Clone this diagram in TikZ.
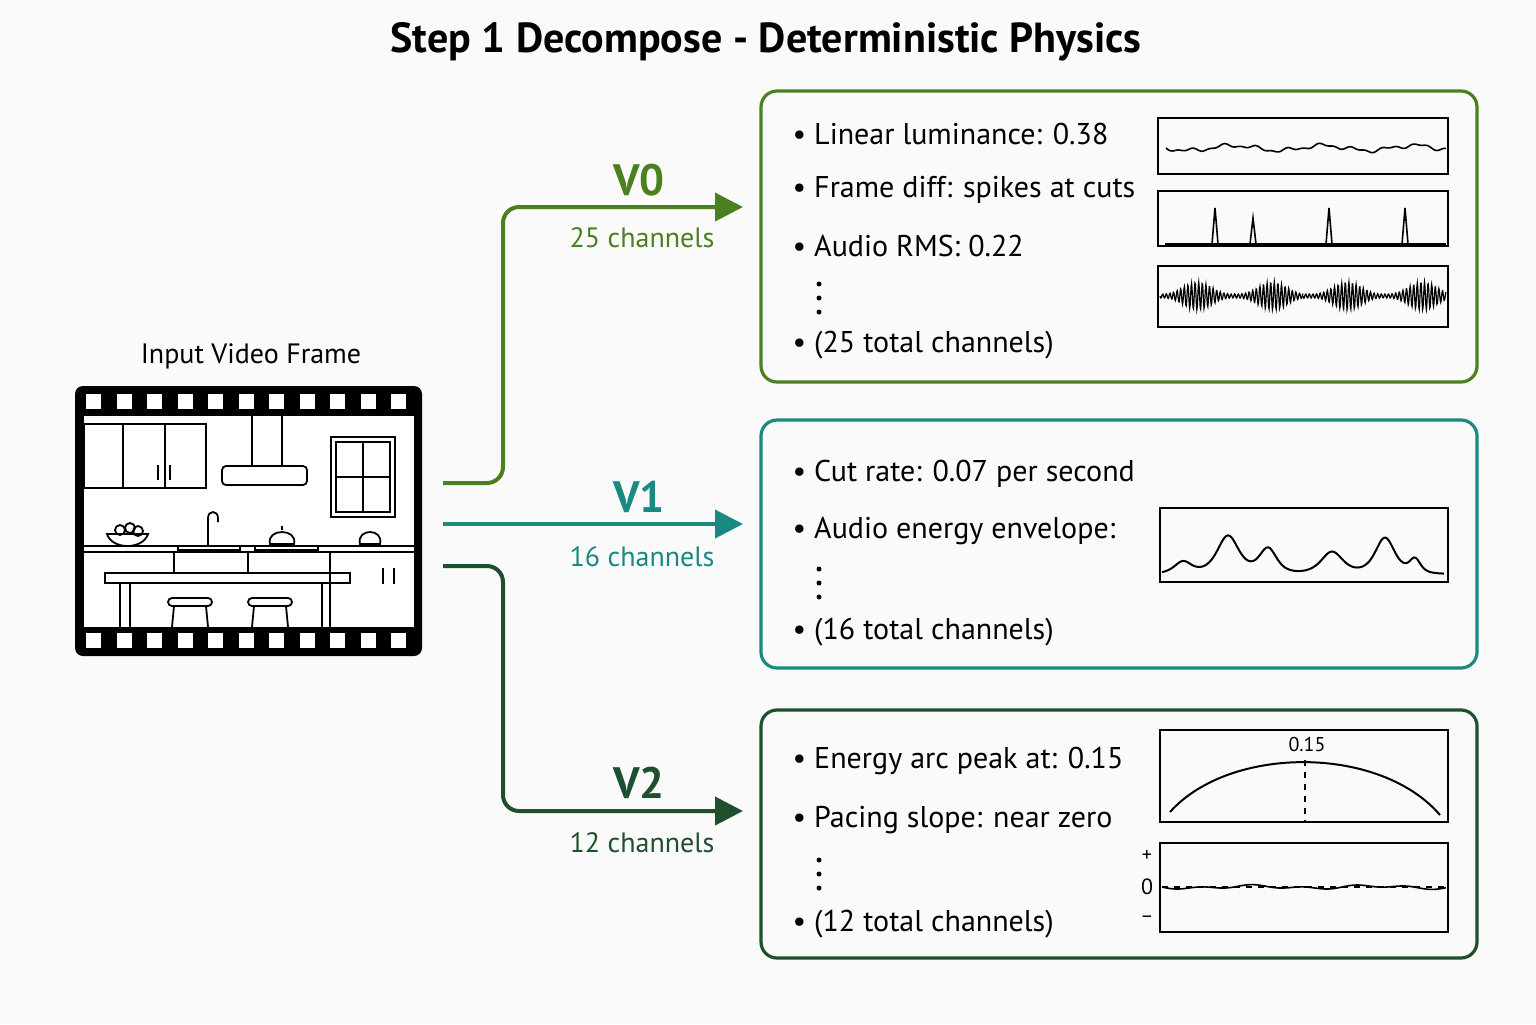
\documentclass[tikz,border=0pt]{standalone}
\usepackage{fontspec}
\setmainfont{PT Sans}
\usetikzlibrary{arrows.meta}
\begin{document}
\begin{tikzpicture}[x=0.5pt,y=-0.5pt,
  line width=1pt]
\definecolor{gA}{RGB}{74,128,30}
\definecolor{gB}{RGB}{26,138,128}
\definecolor{gC}{RGB}{30,79,46}
\tikzset{panel/.style={line width=1.6pt,rounded corners=8pt},
  conn/.style={line width=2pt,rounded corners=8pt,-{Triangle[length=14pt,width=14pt]}},
  plotbox/.style={draw=black,line width=0.8pt},
  txt/.style={anchor=west,font=\fontsize{15}{18}\selectfont},
  vlab/.style={font=\bfseries\fontsize{22}{26}\selectfont},
  clab/.style={font=\fontsize{14}{17}\selectfont}}
\fill[white!97!yellow!60!gray!10] (0,0) rectangle (1536,1024);
\useasboundingbox (0,0) rectangle (1536,1024);
\node[font=\bfseries\fontsize{21}{25}\selectfont] (title) at (766,42) {Step 1 Decompose - Deterministic Physics};
% film
\node[font=\fontsize{14}{17}\selectfont] (inlab) at (251,356) {Input Video Frame};
\fill[black,rounded corners=4pt] (75,386) rectangle (422,656);
\coordinate (film) at (443,524);
\fill[white] (84,416) rectangle (414,627);
\foreach \i in {0,...,10}{
  \fill[white] (86+\i*30.5,394) rectangle ++(15,15);
  \fill[white] (86+\i*30.5,633) rectangle ++(15,15);}
\begin{scope}[line width=0.9pt]
\draw (84,424) rectangle (206,488); \draw (123,424)--(123,488); \draw (165,424)--(165,488);
\draw (158,465)--(158,480); \draw (170,465)--(170,480);
\draw (252,416)--(252,466) (282,416)--(282,466);
\draw[rounded corners=2pt] (222,466) rectangle (307,485);
\draw (331,437) rectangle (395,517); \draw (336,442) rectangle (390,512);
\draw (363,442)--(363,512) (336,477)--(390,477);
\draw (84,546)--(414,546) (84,552)--(414,552);
\draw (174,552)--(174,573) (248,552)--(248,573) (330,552)--(330,627);
\draw (105,573) rectangle (350,583);
\draw (120,583)--(120,627) (130,583)--(130,627) (322,583)--(322,627);
\draw (383,568)--(383,584) (394,568)--(394,584);
\draw (107,534) .. controls (112,550) and (143,550) .. (148,534) -- cycle;
\draw (120,530) circle (5) (130,528) circle (5) (138,531) circle (5);
\draw (178,546) rectangle (240,550);
\draw (208,546)--(208,518) .. controls (208,510) and (218,510) .. (218,518) -- (218,522);
\draw (270,544) .. controls (266,528) and (298,528) .. (294,544) -- cycle;
\draw (282,530) -- (282,526); \draw (255,546) rectangle (318,550);
\draw (360,544) .. controls (356,528) and (384,528) .. (380,544) -- cycle;
\foreach \sx in {190,270}{
 \draw[rounded corners=2pt] (\sx-22,598) rectangle (\sx+22,606);
 \draw (\sx-16,606)--(\sx-18,627) (\sx+16,606)--(\sx+18,627);}
\end{scope}
% panels
\draw[panel,gA] (761,91) rectangle (1477,382);
\draw[panel,gB] (761,420) rectangle (1477,668);
\draw[panel,gC] (761,710) rectangle (1477,958);
\coordinate (p0) at (743,207); \coordinate (p1) at (743,524); \coordinate (p2) at (743,811);
\coordinate (s0) at (443,483); \coordinate (s2) at (443,566);
\draw[conn,gA] (s0) -- (503,483) -- (503,207) -- (p0);
\draw[conn,gB] (film) -- (p1);
\draw[conn,gC] (s2) -- (503,566) -- (503,811) -- (p2);
\node[vlab,gA] (v0) at (639,180) {V0};
\node[clab,gA] (c0) at (642,238) {25 channels};
\node[vlab,gB] (v1) at (639,497) {V1};
\node[clab,gB] (c1) at (642,557) {16 channels};
\node[vlab,gC] (v2) at (639,783) {V2};
\node[clab,gC] (c2) at (642,843) {12 channels};
% texts
\node[txt] (t01) at (785,134) {• Linear luminance: 0.38};
\node[txt] (t02) at (785,190) {• Frame diff: spikes at cuts};
\node[txt] (t03) at (785,246) {• Audio RMS: 0.22};
\node[txt] (t04) at (785,345) {• (25 total channels)};
\node[txt] (t11) at (785,474) {• Cut rate: 0.07 per second};
\node[txt] (t12) at (785,531) {• Audio energy envelope:};
\node[txt] (t13) at (785,632) {• (16 total channels)};
\node[txt] (t21) at (785,761) {• Energy arc peak at: 0.15};
\node[txt] (t22) at (785,820) {• Pacing slope: near zero};
\node[txt] (t23) at (785,924) {• (12 total channels)};
\foreach \y in {284,298,312} \fill (819,\y) circle (2.5);
\foreach \y in {569,583,597} \fill (819,\y) circle (2.5);
\foreach \y in {860,874,888} \fill (819,\y) circle (2.5);
% plots
\draw[plotbox] (1158,118) rectangle (1448,174);
\draw[line width=0.8pt] plot[domain=0:280,samples=120,smooth] ({1166+\x},{148+2.5*sin(\x*4)+1.5*sin(\x*11)+1*sin(\x*23)});
\draw[plotbox] (1158,191) rectangle (1448,246);
\draw[line width=0.8pt] (1165,244) -- (1446,244);
\foreach \sx/\h in {1215/208,1253/218,1329/208,1405/208}
  \draw[line width=0.8pt] (\sx-3,244)--(\sx,\h)--(\sx+3,244);
\draw[plotbox] (1158,266) rectangle (1448,327);
\foreach \off in {0,143}
\draw[line width=0.6pt] plot[domain=0:143,samples=300] ({1160+\off+\x},{296+(2+12*abs(sin((\x+\off)*2.4))^3)*sin(\x*100)});
\draw[plotbox] (1160,508) rectangle (1448,582);
\draw[line width=1pt] plot[domain=0:282,samples=150,smooth] ({1162+\x},{574-38*(1/(1+((\x-66)/20)^2))^2-25*(1/(1+((\x-106)/16)^2))^2-22*(1/(1+((\x-170)/20)^2))^2-36*(1/(1+((\x-223)/18)^2))^2-12*(1/(1+((\x-21)/16)^2))^2-14*(1/(1+((\x-253)/10)^2))^2});
\draw[plotbox] (1160,730) rectangle (1448,822);
\draw[line width=1pt] (1170,812) .. controls (1230,745) and (1380,745) .. (1440,815);
\draw[dashed,line width=0.8pt] (1305,760) -- (1305,822);
\node[font=\fontsize{10}{12}\selectfont] (pk) at (1307,744) {0.15};
\draw[plotbox] (1160,843) rectangle (1448,932);
\draw[dashed,line width=0.7pt] (1162,887) -- (1446,887);
\draw[line width=0.8pt] plot[domain=0:284,samples=100,smooth] ({1162+\x},{887+1.2*sin(\x*7)+1.2*sin(\x*3)});
\node[font=\fontsize{10}{12}\selectfont] (pl) at (1147,856) {+};
\node[font=\fontsize{11}{13}\selectfont] (z) at (1147,887) {0};
\node[font=\fontsize{10}{12}\selectfont] (mi) at (1147,920) {−};
\end{tikzpicture}
\end{document}
